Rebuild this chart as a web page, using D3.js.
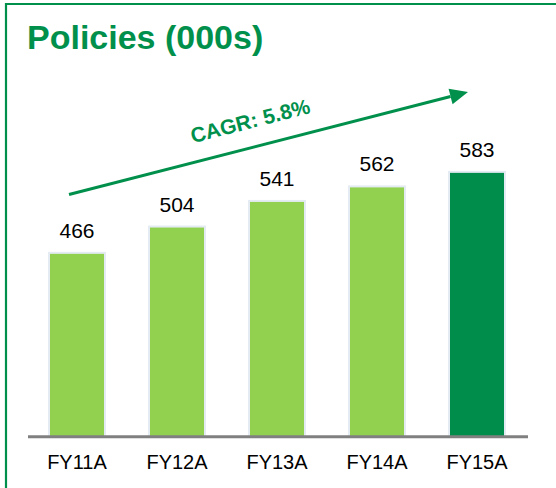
<!DOCTYPE html>
<html>
<head>
<meta charset="utf-8">
<script src="https://cdn.jsdelivr.net/npm/d3@7"></script>
<style>
  body { margin: 0; background: #fff; }
  svg { display: block; font-family: "Liberation Sans", Arial, sans-serif; }
</style>
</head>
<body>
<svg id="chart" width="556" height="488"></svg>
<script>
// chart data
let categories = ['FY11A', 'FY12A', 'FY13A', 'FY14A', 'FY15A'];
let policies = [466, 504, 541, 562, 583];
let title = 'Policies (000s)';
let cagrLabel = 'CAGR: 5.8%';

let width = 556, height = 488;
let green = '#00904c';
let light = '#92d050';

let svg = d3.select('#chart');

let x = d3.scaleBand()
    .domain(categories)
    .range([27, 527])
    .paddingInner(0.42)
    .paddingOuter(0.21);

let y = d3.scaleLinear()
    .domain([200, 600])
    .range([437, 160.1]);

// frame (left + top only)
svg.append('path')
    .attr('d', 'M 6,' + height + ' L 6,4 L ' + width + ',4')
    .attr('fill', 'none')
    .attr('stroke', green)
    .attr('stroke-width', 2.2);

svg.append('text')
    .attr('x', 27)
    .attr('y', 49)
    .attr('font-size', '34px')
    .attr('font-weight', 'bold')
    .attr('fill', green)
    .text(title);

// bars
svg.selectAll('.bar')
    .data(policies)
    .enter()
    .append('rect')
    .attr('class', 'bar')
    .attr('x', (d, i) => x(categories[i]) + 1)
    .attr('width', x.bandwidth() - 2)
    .attr('y', d => y(d))
    .attr('height', d => y(200) - y(d))
    .attr('fill', (d, i) => i === policies.length - 1 ? '#008c4a' : light)
    .attr('stroke', '#e4ebf2')
    .attr('stroke-width', 2);

svg.selectAll('.val')
    .data(policies)
    .enter()
    .append('text')
    .attr('class', 'val')
    .attr('x', (d, i) => x(categories[i]) + x.bandwidth() / 2)
    .attr('y', d => y(d) - 15)
    .attr('text-anchor', 'middle')
    .attr('font-size', '21px')
    .attr('fill', '#000')
    .text(d => d);

// baseline
svg.append('line')
    .attr('x1', 28).attr('x2', 528)
    .attr('y1', 436.8).attr('y2', 436.8)
    .attr('stroke', '#808080')
    .attr('stroke-width', 3);

svg.selectAll('.cat')
    .data(categories)
    .enter()
    .append('text')
    .attr('class', 'cat')
    .attr('x', d => x(d) + x.bandwidth() / 2)
    .attr('y', 468.5)
    .attr('text-anchor', 'middle')
    .attr('font-size', '20px')
    .attr('fill', '#000')
    .text(d => d);

// CAGR arrow
let ax1 = 69, ay1 = 194.5, ax2 = 468, ay2 = 92;
let ang = Math.atan2(ay2 - ay1, ax2 - ax1);
let headLen = 18, headW = 8;
let bx = ax2 - headLen * Math.cos(ang), by = ay2 - headLen * Math.sin(ang);

svg.append('line')
    .attr('x1', ax1).attr('y1', ay1)
    .attr('x2', bx).attr('y2', by)
    .attr('stroke', green)
    .attr('stroke-width', 3);

svg.append('path')
    .attr('d', 'M ' + ax2 + ',' + ay2 +
        ' L ' + (bx + headW * Math.sin(ang)) + ',' + (by - headW * Math.cos(ang)) +
        ' L ' + (bx - headW * Math.sin(ang)) + ',' + (by + headW * Math.cos(ang)) + ' Z')
    .attr('fill', green);

svg.append('text')
    .attr('transform', 'translate(252,128) rotate(' + (ang * 180 / Math.PI) + ')')
    .attr('text-anchor', 'middle')
    .attr('font-size', '21px')
    .attr('font-weight', 'bold')
    .attr('fill', green)
    .text(cagrLabel);
</script>
</body>
</html>
